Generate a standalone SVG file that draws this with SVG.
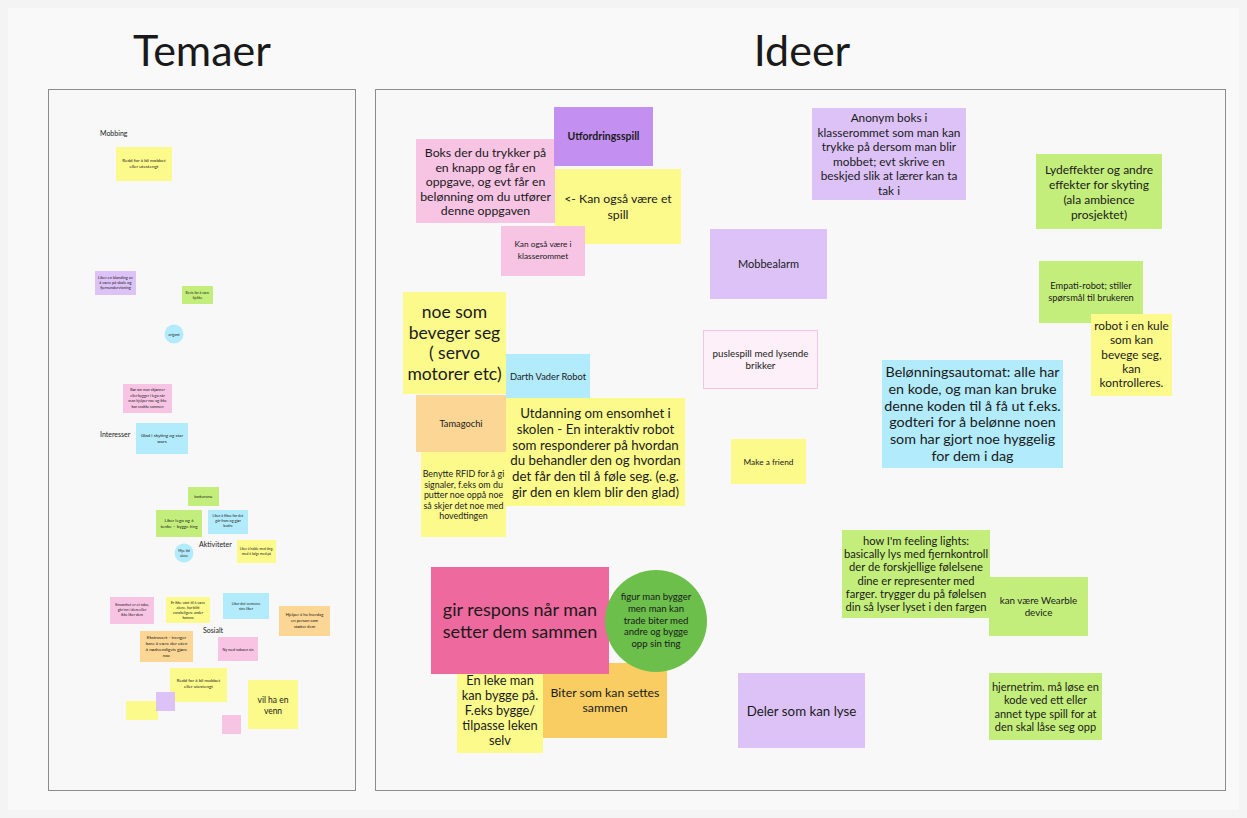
<svg xmlns="http://www.w3.org/2000/svg" width="1247" height="818" viewBox="0 0 1247 818">
  <style>
    text { font-family: Lato, "Noto Sans", "DejaVu Sans", sans-serif; fill: #1a1a1a; }
    .c { text-anchor: middle; }
    .title { font-size: 43px; }
    .panel { fill: #f8f8f8; stroke: #8c8c8c; stroke-width: 1; }
    .yel { fill: #fdfa8c; }
    .pnk { fill: #f7c4e4; }
    .pur { fill: #c390f2; }
    .lpu { fill: #dcc2f7; }
    .grn { fill: #c4ee7b; }
    .blu { fill: #b2ebfb; }
    .org { fill: #fbd694; }
    .ora { fill: #f9cd62; }
    .mag { fill: #ee699d; }
    .ppk { fill: #fdf0f8; stroke: #f4c6e2; stroke-width: 1; }
    .dgr { fill: #6bbf4a; }
    .lab { font-size: 7px; }
    .tiny { font-size: 4px; }
  </style>

  <rect x="0" y="0" width="1247" height="818" fill="#f4f4f4"/>
  <rect x="8" y="8" width="1231" height="802" fill="#f9f9f9"/>

  <!-- section titles -->
  <text class="title c" x="202" y="66">Temaer</text>
  <text class="title c" x="802" y="66">Ideer</text>

  <!-- frames -->
  <rect class="panel" x="48.5" y="89.5" width="307" height="701"/>
  <rect class="panel" x="375.5" y="89.5" width="850" height="701"/>

  <!-- ===== Temaer ===== -->
  <g id="tema-labels">
    <text class="lab" x="100" y="136" font-size="8">Mobbing</text>
    <text class="lab" x="100" y="437">Interesser</text>
    <text class="lab" x="199" y="547">Aktiviteter</text>
    <text class="lab" x="203" y="633">Sosialt</text>
  </g>

  <g id="t-redd1"><rect class="yel" x="116" y="147" width="56" height="34"/>
    <text class="c" font-size="4.6" x="144" y="162">Redd for å bli mobbet<tspan x="144" dy="6">eller utestengt</tspan></text></g>

  <g id="t-blanding"><rect class="lpu" x="95" y="271" width="41" height="24"/>
    <text class="c tiny" x="115.5" y="279">Liker en blanding av<tspan x="115.5" dy="5">å være på skole og</tspan><tspan x="115.5" dy="5">fjernundervisning</tspan></text></g>

  <g id="t-bevis"><rect class="grn" x="182" y="286" width="31" height="18"/>
    <text class="c" font-size="3.4" x="197.5" y="294">Bevis for å være<tspan x="197.5" dy="4.5">kjekke</tspan></text></g>

  <g id="t-origami"><circle fill="#b2ebfb" cx="174" cy="334" r="9.5"/>
    <text class="c" font-size="3.4" x="174" y="335.5">origami</text></g>

  <g id="t-lego1"><rect class="pnk" x="123" y="384" width="49" height="29"/>
    <text class="c" font-size="3.7" x="147.5" y="391">Bør om man skjønner<tspan x="147.5" dy="5.5">eller bygger i lego når</tspan><tspan x="147.5" dy="5.5">man hjelper noe og ikke</tspan><tspan x="147.5" dy="5.5">kan snakke sammen</tspan></text></g>

  <g id="t-starwars"><rect class="blu" x="136" y="423" width="52" height="31"/>
    <text class="c" font-size="4.6" x="162" y="437">Glad i skyting og star<tspan x="162" dy="6">wars</tspan></text></g>

  <g id="t-konk"><rect class="grn" x="188" y="487" width="31" height="19"/>
    <text class="c" font-size="3.4" x="203.5" y="498">konkurranse</text></g>

  <g id="t-lego2"><rect class="grn" x="156" y="510" width="46" height="27"/>
    <text class="c" font-size="4.6" x="179" y="522">Liker lego og å<tspan x="179" dy="6">tenke – bygge ting</tspan></text></g>

  <g id="t-fikse"><rect class="blu" x="208" y="510" width="40" height="24"/>
    <text class="c" font-size="3.7" x="228" y="517">Liker å fikse for det<tspan x="228" dy="5">går fram og gjør</tspan><tspan x="228" dy="5">bedre</tspan></text></g>

  <g id="t-alene"><circle fill="#b2ebfb" cx="184" cy="553" r="9.5"/>
    <text class="c" font-size="3.4" x="184" y="552">Mye tid<tspan x="184" dy="4.5">alene</tspan></text></g>

  <g id="t-holde"><rect class="yel" x="237" y="540" width="39" height="23"/>
    <text class="c" font-size="3.4" x="256.5" y="550">Liker å holde med ting,<tspan x="256.5" dy="4.5">med å følge med på</tspan></text></g>

  <g id="t-tabu"><rect class="pnk" x="110" y="597" width="44" height="27"/>
    <text class="c" font-size="3.7" x="132" y="606">Ensomhet er et tabu,<tspan x="132" dy="5">går inn i dem eller</tspan><tspan x="132" dy="5">ikke liker dem</tspan></text></g>

  <g id="t-korona"><rect class="yel" x="166" y="597" width="44" height="26"/>
    <text class="c" font-size="3.7" x="188" y="604">Er ikke vant til å være<tspan x="188" dy="5">alene, har blitt</tspan><tspan x="188" dy="5">vanskeligere under</tspan><tspan x="188" dy="5">korona</tspan></text></g>

  <g id="t-venner"><rect class="blu" x="223" y="593" width="46" height="26"/>
    <text class="c" font-size="3.7" x="246" y="605">Liker det vennene<tspan x="246" dy="5">sine liker</tspan></text></g>

  <g id="t-hjelper"><rect class="org" x="279" y="606" width="51" height="30"/>
    <text class="c" font-size="4.2" x="304.5" y="616">Hjelper å ha hverdag<tspan x="304.5" dy="6">en person som</tspan><tspan x="304.5" dy="6">støtter dem</tspan></text></g>

  <g id="t-ekstro"><rect class="org" x="140" y="631" width="53" height="31"/>
    <text class="c" font-size="4.6" x="166.5" y="639">Ekstrovert - trenger<tspan x="166.5" dy="6">bare å være der uten</tspan><tspan x="166.5" dy="6">å nødvendigvis gjøre</tspan><tspan x="166.5" dy="6">noe</tspan></text></g>

  <g id="t-nabo"><rect class="pnk" x="218" y="637" width="40" height="24"/>
    <text class="c" font-size="3.7" x="238" y="650.5">Ny med naboen sin</text></g>

  <g id="t-redd2"><rect class="yel" x="170" y="668" width="57" height="34"/>
    <text class="c" font-size="4.6" x="198.5" y="682">Redd for å bli mobbet<tspan x="198.5" dy="6">eller utestengt</tspan></text></g>

  <g id="t-blank-y"><rect class="yel" x="126" y="701" width="32" height="19"/></g>
  <g id="t-blank-p"><rect class="lpu" x="156" y="692" width="19" height="19"/></g>
  <g id="t-blank-k"><rect class="pnk" x="222" y="715" width="19" height="19"/></g>

  <g id="t-venn"><rect class="yel" x="248" y="680" width="50" height="49"/>
    <text class="c" font-size="8.5" x="273" y="703">vil ha en<tspan x="273" dy="11">venn</tspan></text></g>

  <!-- ===== Ideer ===== -->
  <g id="boks"><rect class="pnk" x="416" y="139" width="139" height="84"/>
    <text class="c" font-size="12.3" x="485.5" y="157">Boks der du trykker på<tspan x="485.5" dy="14.5">en knapp og får en</tspan><tspan x="485.5" dy="14.5">oppgave, og evt får en</tspan><tspan x="485.5" dy="14.5">belønning om du utfører</tspan><tspan x="485.5" dy="14.5">denne oppgaven</tspan></text></g>

  <g id="utfordring"><rect class="pur" x="554" y="107" width="99" height="59"/>
    <text class="c" font-size="10.5" font-weight="bold" x="603.5" y="140">Utfordringsspill</text></g>

  <g id="spill"><rect class="yel" x="555" y="169" width="126" height="75"/>
    <text class="c" font-size="12.3" x="618" y="203">&lt;- Kan også være et<tspan x="618" dy="15.5">spill</tspan></text></g>

  <g id="klasse"><rect class="pnk" x="501" y="226" width="84" height="50"/>
    <text class="c" font-size="8.3" x="543" y="247">Kan også være i<tspan x="543" dy="11.5">klasserommet</tspan></text></g>

  <g id="anonym"><rect class="lpu" x="812" y="108" width="154" height="92"/>
    <text class="c" font-size="11.8" x="889" y="122">Anonym boks i<tspan x="889" dy="14.5">klasserommet som man kan</tspan><tspan x="889" dy="14.5">trykke på dersom man blir</tspan><tspan x="889" dy="14.5">mobbet; evt skrive en</tspan><tspan x="889" dy="14.5">beskjed slik at lærer kan ta</tspan><tspan x="889" dy="14.5">tak i</tspan></text></g>

  <g id="lyd"><rect class="grn" x="1036" y="154" width="126" height="75"/>
    <text class="c" font-size="12" x="1099" y="174">Lydeffekter og andre<tspan x="1099" dy="15">effekter for skyting</tspan><tspan x="1099" dy="15">(ala ambience</tspan><tspan x="1099" dy="15">prosjektet)</tspan></text></g>

  <g id="mobbealarm"><rect class="lpu" x="710" y="229" width="117" height="70"/>
    <text class="c" font-size="11" x="768.5" y="268">Mobbealarm</text></g>

  <g id="empati"><rect class="grn" x="1039" y="261" width="104" height="62"/>
    <text class="c" font-size="9.3" x="1091" y="289">Empati-robot; stiller<tspan x="1091" dy="12">spørsmål til brukeren</tspan></text></g>

  <g id="kule"><rect class="yel" x="1091" y="314" width="81" height="82"/>
    <text class="c" font-size="11.8" x="1131.5" y="330">robot i en kule<tspan x="1131.5" dy="14.3">som kan</tspan><tspan x="1131.5" dy="14.3">bevege seg,</tspan><tspan x="1131.5" dy="14.3">kan</tspan><tspan x="1131.5" dy="14.3">kontrolleres.</tspan></text></g>

  <g id="puslespill"><rect class="ppk" x="703.5" y="330.5" width="114" height="58"/>
    <text class="c" font-size="9.8" x="760.5" y="357">puslespill med lysende<tspan x="760.5" dy="12">brikker</tspan></text></g>

  <g id="belonning"><rect class="blu" x="882" y="360" width="181" height="108"/>
    <text class="c" font-size="14.3" x="972.5" y="377">Belønningsautomat: alle har<tspan x="972.5" dy="16.8">en kode, og man kan bruke</tspan><tspan x="972.5" dy="16.8">denne koden til å få ut f.eks.</tspan><tspan x="972.5" dy="16.8">godteri for å belønne noen</tspan><tspan x="972.5" dy="16.8">som har gjort noe hyggelig</tspan><tspan x="972.5" dy="16.8">for dem i dag</tspan></text></g>

  <g id="beveger"><rect class="yel" x="403" y="292" width="103" height="102"/>
    <text class="c" font-size="17.5" x="454.5" y="318">noe som<tspan x="454.5" dy="20.5">beveger seg</tspan><tspan x="454.5" dy="20.5">( servo</tspan><tspan x="454.5" dy="20.5">motorer etc)</tspan></text></g>

  <g id="darth"><rect class="blu" x="506" y="354" width="84" height="45"/>
    <text class="c" font-size="9.3" x="548" y="379.5">Darth Vader Robot</text></g>

  <g id="tamagochi"><rect class="org" x="416" y="395" width="90" height="57"/>
    <text class="c" font-size="9.3" x="461" y="427">Tamagochi</text></g>

  <g id="utdanning"><rect class="yel" x="506" y="398" width="179" height="108"/>
    <text class="c" font-size="13.3" x="595.5" y="418">Utdanning om ensomhet i<tspan x="595.5" dy="15.8">skolen - En interaktiv robot</tspan><tspan x="595.5" dy="15.8">som responderer på hvordan</tspan><tspan x="595.5" dy="15.8">du behandler den og hvordan</tspan><tspan x="595.5" dy="15.8">det får den til å føle seg. (e.g.</tspan><tspan x="595.5" dy="15.8">gir den en klem blir den glad)</tspan></text></g>

  <g id="rfid"><rect class="yel" x="421" y="452" width="85" height="85"/>
    <text class="c" font-size="8.9" x="463.5" y="477">Benytte RFID for å gi<tspan x="463.5" dy="10.6">signaler, f.eks om du</tspan><tspan x="463.5" dy="10.6">putter noe oppå noe</tspan><tspan x="463.5" dy="10.6">så skjer det noe med</tspan><tspan x="463.5" dy="10.6">hovedtingen</tspan></text></g>

  <g id="friend"><rect class="yel" x="731" y="439" width="75" height="45"/>
    <text class="c" font-size="8.3" x="768.5" y="465">Make a friend</text></g>

  <g id="lights"><rect class="grn" x="842" y="530" width="148" height="88"/>
    <text class="c" font-size="11.2" x="916" y="545">how I'm feeling lights:<tspan x="916" dy="13.2">basically lys med fjernkontroll</tspan><tspan x="916" dy="13.2">der de forskjellige følelsene</tspan><tspan x="916" dy="13.2">dine er representer med</tspan><tspan x="916" dy="13.2">farger. trygger du på følelsen</tspan><tspan x="916" dy="13.2">din så lyser lyset i den fargen</tspan></text></g>

  <g id="wearble"><rect class="grn" x="989" y="577" width="99" height="59"/>
    <text class="c" font-size="9.8" x="1038.5" y="604">kan være Wearble<tspan x="1038.5" dy="12">device</tspan></text></g>

  <g id="enleke"><rect class="yel" x="457" y="660" width="86" height="93"/>
    <text class="c" font-size="12.8" x="500" y="685">En leke man<tspan x="500" dy="15">kan bygge på.</tspan><tspan x="500" dy="15">F.eks bygge/</tspan><tspan x="500" dy="15">tilpasse leken</tspan><tspan x="500" dy="15">selv</tspan></text></g>

  <g id="biter"><rect class="ora" x="543" y="663" width="124" height="75"/>
    <text class="c" font-size="12.3" x="605" y="697">Biter som kan settes<tspan x="605" dy="15">sammen</tspan></text></g>

  <g id="respons"><rect class="mag" x="431" y="567" width="178" height="107"/>
    <text class="c" font-size="18" x="520" y="616">gir respons når man<tspan x="520" dy="22">setter dem sammen</tspan></text></g>

  <g id="figur"><circle class="dgr" cx="656" cy="621" r="51"/>
    <text class="c" font-size="9.6" x="656" y="600">figur man bygger<tspan x="656" dy="11.8">men man kan</tspan><tspan x="656" dy="11.8">trade biter med</tspan><tspan x="656" dy="11.8">andre og bygge</tspan><tspan x="656" dy="11.8">opp sin ting</tspan></text></g>

  <g id="deler"><rect class="lpu" x="738" y="673" width="127" height="75"/>
    <text class="c" font-size="13.3" x="801.5" y="715.5">Deler som kan lyse</text></g>

  <g id="hjernetrim"><rect class="grn" x="989" y="673" width="113" height="67"/>
    <text class="c" font-size="11" x="1045.5" y="691">hjernetrim. må løse en<tspan x="1045.5" dy="13.3">kode ved ett eller</tspan><tspan x="1045.5" dy="13.3">annet type spill for at</tspan><tspan x="1045.5" dy="13.3">den skal låse seg opp</tspan></text></g>

  <!-- the board has no connectors -->
  <g id="connectors"/>
</svg>
